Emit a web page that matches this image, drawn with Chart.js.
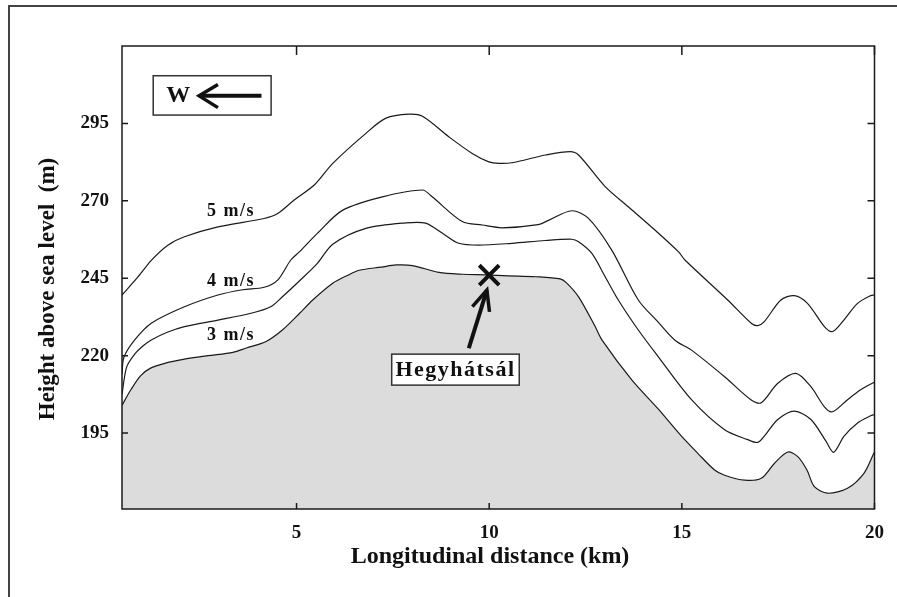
<!DOCTYPE html>
<html>
<head>
<meta charset="utf-8">
<script src="https://cdn.jsdelivr.net/npm/chart.js@4.4.1/dist/chart.umd.min.js"></script>
<style>
  html, body { margin: 0; padding: 0; background: #ffffff; }
  #wrap { width: 897px; height: 597px; position: relative; }
</style>
</head>
<body>
<div id="wrap"><canvas id="c" width="897" height="597"></canvas></div>
<script>
// ---------------- DATA ----------------
const xTicks = [5, 10, 15, 20];
const yTicks = [195, 220, 245, 270, 295];

const terrainX = [0.47, 0.7, 0.95, 1.2, 1.6, 2.06, 2.7, 3.35, 3.7, 4.21, 4.64, 5.08, 5.42, 5.94, 6.3, 6.63, 7.2, 7.58, 8.01, 8.7, 9.3, 9.9, 10.5, 11.2, 11.84, 12.0, 12.32, 12.75, 12.92, 13.7, 14.38, 14.99, 15.42, 15.85, 16.11, 16.63, 17.06, 17.4, 17.75, 18.01, 18.25, 18.44, 18.78, 19.3, 19.73, 20.0];
const terrainY = [204, 209, 213.5, 215.9, 217.6, 218.8, 220, 221.1, 222.5, 224.6, 228.4, 233.7, 238, 243.4, 245.8, 247.6, 248.6, 249.3, 249.1, 246.9, 246.3, 246.1, 245.8, 245.5, 244.8, 243.6, 239.0, 229.4, 225.2, 212.2, 202.9, 194, 188.4, 183.1, 181.4, 179.8, 180.4, 185.2, 188.9, 187.4, 183, 177.7, 175.6, 177.2, 182.1, 189.0];

const wind3X = [0.47, 0.59, 0.8, 1.02, 1.23, 1.63, 2.09, 2.96, 3.82, 4.33, 4.64, 5.08, 5.54, 5.94, 6.8, 7.84, 8.35, 8.78, 9.21, 9.73, 10.59, 11.46, 12.14, 12.32, 12.66, 13.01, 13.35, 13.87, 14.38, 15.25, 16.11, 16.71, 16.97, 17.14, 17.49, 17.92, 18.35, 18.74, 18.94, 19.21, 19.56, 19.9, 20.0];
const wind3Y = [207.5, 216.3, 220.5, 223.2, 225.1, 227.5, 229.4, 231.5, 233.7, 235.8, 239.1, 244.2, 249.8, 256.0, 261.1, 262.9, 262.8, 259.6, 256.3, 255.7, 256.3, 257.2, 257.6, 256.8, 253.1, 245.5, 238.0, 228.3, 219.8, 205.8, 196.1, 192.9, 192.0, 194.0, 199.4, 202.1, 199.4, 192.4, 188.8, 194.0, 198.3, 200.6, 201.0];

const wind4X = [0.47, 0.52, 0.8, 1.23, 2.09, 2.96, 3.6, 4.16, 4.51, 4.85, 5.08, 5.54, 6.2, 7.23, 8.27, 8.52, 9.3, 9.82, 10.33, 11.27, 11.54, 12.14, 12.57, 13.18, 13.87, 14.38, 14.82, 15.25, 16.11, 16.8, 17.06, 17.49, 17.96, 18.35, 18.7, 18.91, 19.3, 19.64, 19.94, 20.0];
const wind4Y = [214, 219.5, 225.1, 230.5, 235.8, 239.6, 241.3, 242.1, 244.4, 250.9, 253.6, 259.5, 267.0, 271.3, 273.5, 271.3, 263.3, 262.2, 261.3, 262.3, 263.7, 266.8, 264.4, 254.1, 238.0, 230.9, 225.0, 221.8, 213.2, 205.7, 204.8, 211.1, 214.3, 210.0, 203.5, 201.9, 205.8, 209.0, 211.1, 211.4];

const wind5X = [0.47, 0.89, 1.23, 1.66, 2.09, 2.96, 4.16, 4.51, 4.94, 5.46, 5.94, 6.8, 7.32, 7.92, 8.27, 8.95, 9.56, 9.99, 10.25, 10.59, 11.46, 12.1, 12.32, 13.01, 13.61, 14.3, 14.91, 15.08, 16.19, 16.8, 16.97, 17.14, 17.57, 17.92, 18.26, 18.7, 18.91, 19.21, 19.56, 19.9, 20.0];
const wind5Y = [239.6, 245.5, 250.8, 255.7, 258.4, 261.6, 264.3, 265.9, 270.3, 275.1, 282.1, 291.8, 296.7, 298.0, 297.3, 290.7, 285.3, 282.6, 282.1, 282.3, 284.8, 285.9, 284.8, 274.6, 268.1, 260.6, 253.6, 250.9, 238.0, 230.5, 229.7, 231.0, 238.0, 239.4, 236.9, 229.4, 227.8, 231.6, 236.9, 239.4, 239.6];

const siteName = 'Hegyhátsál';
const siteX = [10];
const siteY = [246];
const speedLabels = ['5 m/s', '4 m/s', '3 m/s'];
const windDirLabel = 'W';
const xTitle = 'Longitudinal distance (km)';
const yTitle = 'Height above sea level  (m)';

// ---------------- HELPERS ----------------
const pts = (xs, ys) => xs.map((x, i) => ({ x: x, y: ys[i] }));
const FONT = '"Liberation Serif", "Times New Roman", serif';

const decor = {
  id: 'decor',
  afterDraw(chart) {
    const ctx = chart.ctx;
    const xs = chart.scales.x, ys = chart.scales.y;
    const a = chart.chartArea;
    const X = v => xs.getPixelForValue(v);
    const Y = v => ys.getPixelForValue(v);
    ctx.save();

    // frame of plot
    ctx.strokeStyle = '#1a1a1a';
    ctx.lineWidth = 1.5;
    ctx.strokeRect(a.left, a.top, a.right - a.left, a.bottom - a.top);

    // inward tick marks on all four sides
    ctx.lineWidth = 1.5;
    ctx.beginPath();
    xTicks.forEach(t => {
      const p = X(t);
      ctx.moveTo(p, a.bottom); ctx.lineTo(p, a.bottom - 6);
      ctx.moveTo(p, a.top); ctx.lineTo(p, a.top + 9);
    });
    yTicks.forEach(t => {
      const p = Y(t);
      ctx.moveTo(a.left, p); ctx.lineTo(a.left + 6, p);
      ctx.moveTo(a.right, p); ctx.lineTo(a.right - 7, p);
    });
    ctx.stroke();

    // outer figure border (left/top visible)
    ctx.strokeStyle = '#444';
    ctx.lineWidth = 2;
    ctx.strokeRect(9, 6, 1000, 1000);

    // axis titles
    ctx.fillStyle = '#111';
    ctx.font = 'bold 24px ' + FONT;
    ctx.textAlign = 'center';
    ctx.textBaseline = 'middle';
    ctx.fillText(xTitle, 490, 557);
    ctx.save();
    ctx.translate(48, 289);
    ctx.rotate(-Math.PI / 2);
    ctx.font = 'bold 23px ' + FONT;
    ctx.fillText(yTitle, 0, 0);
    ctx.restore();

    // speed labels
    ctx.font = 'bold 18px ' + FONT;
    ctx.letterSpacing = '1.5px';
    ctx.fillText(speedLabels[0], X(3.3), Y(266.5));
    ctx.fillText(speedLabels[1], X(3.3), Y(243.9));
    ctx.fillText(speedLabels[2], X(3.3), Y(226.7));
    ctx.letterSpacing = '0px';

    // W box with arrow
    ctx.fillStyle = '#fff';
    const bx0 = X(1.28), bx1 = X(4.34), by0 = Y(310.4), by1 = Y(297.7);
    ctx.fillRect(bx0, by0, bx1 - bx0, by1 - by0);
    ctx.strokeStyle = '#333';
    ctx.lineWidth = 1.5;
    ctx.strokeRect(bx0, by0, bx1 - bx0, by1 - by0);
    ctx.fillStyle = '#111';
    ctx.font = 'bold 24px ' + FONT;
    ctx.fillText(windDirLabel, X(1.93), Y(304.2) + 1);
    ctx.strokeStyle = '#111';
    ctx.lineWidth = 4;
    ctx.lineCap = 'butt';
    ctx.beginPath();
    ctx.moveTo(X(4.09), Y(303.9)); ctx.lineTo(X(2.5), Y(303.9));
    ctx.stroke();
    ctx.lineWidth = 3.5;
    ctx.beginPath();
    ctx.moveTo(X(2.96), Y(307.6)); ctx.lineTo(X(2.47), Y(303.9)); ctx.lineTo(X(2.96), Y(300.1));
    ctx.stroke();

    // site box
    const hx0 = X(7.47), hx1 = X(10.78), hy0 = Y(220.5), hy1 = Y(210.5);
    ctx.fillStyle = '#fff';
    ctx.fillRect(hx0, hy0, hx1 - hx0, hy1 - hy0);
    ctx.strokeStyle = '#333';
    ctx.lineWidth = 1.5;
    ctx.strokeRect(hx0, hy0, hx1 - hx0, hy1 - hy0);
    ctx.fillStyle = '#111';
    ctx.font = 'bold 22px ' + FONT;
    ctx.letterSpacing = '1.5px';
    ctx.fillText(siteName, (hx0 + hx1) / 2, (hy0 + hy1) / 2 + 1);
    ctx.letterSpacing = '0px';

    // arrow to site
    const tx = X(9.47), ty = Y(222.4), hx = X(9.94), hy = Y(241.2);
    ctx.strokeStyle = '#111';
    ctx.lineWidth = 4;
    ctx.beginPath();
    ctx.moveTo(tx, ty); ctx.lineTo(hx, hy);
    ctx.stroke();
    const ang = Math.atan2(hy - ty, hx - tx);
    const L = 22, sp = 0.42;
    ctx.lineWidth = 3.5;
    ctx.beginPath();
    ctx.moveTo(hx - L * Math.cos(ang - sp), hy - L * Math.sin(ang - sp));
    ctx.lineTo(hx, hy);
    ctx.lineTo(hx - L * Math.cos(ang + sp), hy - L * Math.sin(ang + sp));
    ctx.stroke();

    ctx.restore();
  }
};

const lineDs = (label, xs, ys, extra) => Object.assign({
  type: 'line',
  label: label,
  data: pts(xs, ys),
  borderColor: '#1a1a1a',
  borderWidth: 1.2,
  pointRadius: 0,
  fill: false,
  tension: 0.3,
  order: 2
}, extra || {});

new Chart(document.getElementById('c'), {
  type: 'line',
  data: {
    datasets: [
      lineDs('Terrain', terrainX, terrainY, { fill: 'start', backgroundColor: '#dcdcdc', order: 5 }),
      lineDs('3 m/s', wind3X, wind3Y),
      lineDs('4 m/s', wind4X, wind4Y),
      lineDs('5 m/s', wind5X, wind5Y),
      {
        type: 'scatter',
        label: siteName,
        data: pts(siteX, siteY),
        pointStyle: 'crossRot',
        pointRadius: 14,
        borderWidth: 4,
        borderColor: '#111',
        order: 1
      }
    ]
  },
  options: {
    responsive: false,
    animation: false,
    events: [],
    layout: { padding: { left: 0, top: 46, right: 20, bottom: 0 } },
    plugins: { legend: { display: false }, tooltip: { enabled: false } },
    scales: {
      x: {
        type: 'linear',
        min: 0.47, max: 20,
        afterFit: s => { s.height = 88; },
        afterBuildTicks: s => { s.ticks = xTicks.map(v => ({ value: v })); },
        grid: { display: false, drawTicks: false },
        border: { display: false },
        ticks: { padding: 13, color: '#111', font: { family: FONT, size: 19, weight: 'bold' } }
      },
      y: {
        type: 'linear',
        min: 170.5, max: 320,
        afterFit: s => { s.width = 122; },
        afterBuildTicks: s => { s.ticks = yTicks.map(v => ({ value: v })); },
        grid: { display: false, drawTicks: false },
        border: { display: false },
        ticks: { padding: 13, color: '#111', font: { family: FONT, size: 19, weight: 'bold' } }
      }
    }
  },
  plugins: [decor]
});
</script>
</body>
</html>
